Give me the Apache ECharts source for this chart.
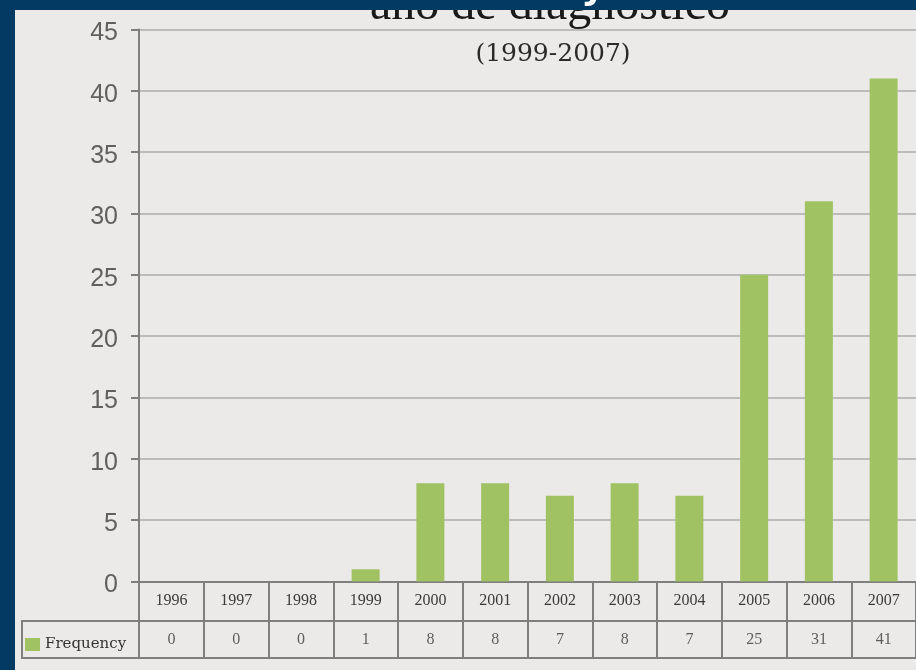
<!DOCTYPE html>
<html>
<head>
<meta charset="utf-8">
<title>año de diagnóstico</title>
<script src="https://cdn.jsdelivr.net/npm/echarts@6/dist/echarts.min.js"></script>
<style>
  html, body { margin: 0; padding: 0; background: #013b63; }
  #chart { width: 916px; height: 670px; }
</style>
</head>
<body>
<div id="chart"></div>
<script>
// Cases per year of diagnosis
const years = ['1996', '1997', '1998', '1999', '2000', '2001', '2002', '2003', '2004', '2005', '2006', '2007'];
const frequency = [0, 0, 0, 1, 8, 8, 7, 8, 7, 25, 31, 41];
const seriesName = 'Frequency';
const titleText = 'año de diagnóstico';
const subtitleText = '(1999-2007)';

const LINE = '#7f7f7f';
const GREEN = '#a0c263';
const BLUE = '#013b63';

const chart = echarts.init(document.getElementById('chart'), null, { renderer: 'canvas' });

chart.setOption({
  backgroundColor: '#ebeae8',
  animation: false,
  legend: {
    data: [seriesName],
    left: 25,
    top: 637,
    padding: 0,
    icon: 'rect',
    itemWidth: 15,
    itemHeight: 13,
    textStyle: { fontFamily: 'DejaVu Serif', fontSize: 15, color: '#333' }
  },
  grid: [
    // plot area
    { left: 139, top: 29.5, width: 784, height: 552 },
    // data-table value row
    { left: 139, top: 621, width: 784, height: 37, show: true,
      borderColor: LINE, borderWidth: 2, backgroundColor: 'transparent' }
  ],
  xAxis: [
    {
      type: 'category',
      gridIndex: 0,
      data: years,
      axisLine: { lineStyle: { color: LINE, width: 2 } },
      axisTick: { show: true, interval: 0, length: 39, lineStyle: { color: LINE, width: 2 } },
      axisLabel: {
        interval: 0, margin: 11,
        fontFamily: 'Liberation Serif', fontSize: 16, color: '#3a3a3a'
      },
      splitLine: { show: false }
    },
    {
      type: 'category',
      gridIndex: 1,
      data: years,
      axisLine: { show: false },
      axisTick: { show: false },
      axisLabel: { show: false },
      splitLine: { show: true, interval: 0, lineStyle: { color: LINE, width: 2 } }
    }
  ],
  yAxis: [
    {
      type: 'value',
      gridIndex: 0,
      min: 0, max: 45, interval: 5,
      axisLine: { show: true, lineStyle: { color: LINE, width: 2 } },
      axisTick: { show: true, length: 8, lineStyle: { color: LINE, width: 2 } },
      axisLabel: {
        margin: 21,
        // a short spacer line above each number sets it a little below its tick
        formatter: v => '{s| }\n{v|' + v + '}',
        rich: {
          s: { fontSize: 8, lineHeight: 8 },
          v: { fontFamily: 'Liberation Sans', fontSize: 25, lineHeight: 26, color: '#606060' }
        }
      },
      splitLine: { lineStyle: { color: '#bcbcbc', width: 2 } }
    },
    {
      type: 'value',
      gridIndex: 1,
      min: 0, max: 1,
      show: false
    }
  ],
  series: [
    {
      name: seriesName,
      type: 'bar',
      xAxisIndex: 0,
      yAxisIndex: 0,
      data: frequency,
      barWidth: 28,
      itemStyle: { color: GREEN }
    },
    {
      // value row of the data table
      type: 'scatter',
      xAxisIndex: 1,
      yAxisIndex: 1,
      symbolSize: 1,
      itemStyle: { color: 'transparent' },
      data: frequency.map((v, i) => [i, 0.5, v]),
      label: {
        show: true,
        position: 'inside',
        formatter: p => String(p.data[2]),
        fontFamily: 'Liberation Serif', fontSize: 16, color: '#3a3a3a'
      },
      silent: true
    }
  ],
  graphic: [
    // legend cell of the data table
    { type: 'rect', z: 50, shape: { x: 22, y: 621, width: 117, height: 37 },
      style: { fill: 'transparent', stroke: LINE, lineWidth: 2 } },
    // chart title and subtitle
    { type: 'text', z: 60, x: 550, y: 6,
      style: { text: titleText, align: 'center', verticalAlign: 'middle',
               font: '48px "Liberation Serif"', fill: '#1a1a1a' } },
    { type: 'text', z: 60, x: 553, y: 54,
      style: { text: subtitleText, align: 'center', verticalAlign: 'middle',
               font: '25px "DejaVu Serif"', fill: '#2a2a2a' } },
    // slide frame
    { type: 'rect', z: 90, shape: { x: 0, y: 0, width: 916, height: 10 }, style: { fill: BLUE } },
    { type: 'rect', z: 90, shape: { x: 0, y: 0, width: 15, height: 670 }, style: { fill: BLUE } },
    { type: 'text', z: 95, x: 581, y: 7,
      style: { text: 'y', align: 'left', verticalAlign: 'bottom',
               font: 'bold 38px "DejaVu Sans"', fill: '#ffffff' } }
  ]
});
</script>
</body>
</html>
